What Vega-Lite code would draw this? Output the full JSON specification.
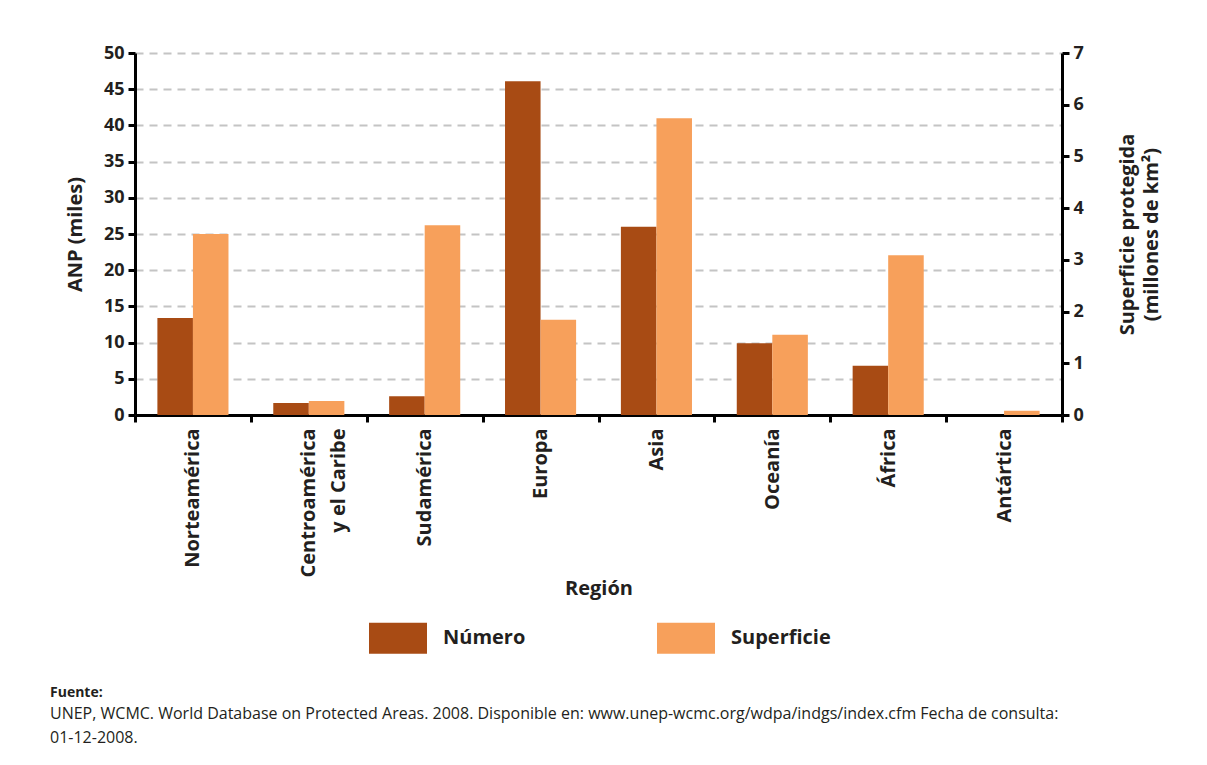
{
  "$schema": "https://vega.github.io/schema/vega-lite/v6.json",
  "width": 927,
  "height": 362,
  "autosize": "none",
  "padding": {"left": 135, "top": 53, "right": 145, "bottom": 350},
  "background": "white",
  "config": {
    "font": "Open Sans",
    "view": {"stroke": null},
    "axis": {
      "labelFont": "Open Sans",
      "labelFontWeight": "bold",
      "labelColor": "#231F20",
      "titleFont": "Open Sans",
      "titleFontWeight": "bold",
      "titleColor": "#231F20",
      "domainColor": "#000000",
      "domainWidth": 3,
      "tickColor": "#000000",
      "tickWidth": 3,
      "tickSize": 7
    }
  },
  "data": {
    "values": [
      {"region": "Norteamérica", "serie": "Número", "valor": 13.4},
      {"region": "Norteamérica", "serie": "Superficie", "valor": 3.5},
      {"region": "Centroamérica y el Caribe", "serie": "Número", "valor": 1.65},
      {"region": "Centroamérica y el Caribe", "serie": "Superficie", "valor": 0.27},
      {"region": "Sudamérica", "serie": "Número", "valor": 2.6},
      {"region": "Sudamérica", "serie": "Superficie", "valor": 3.67},
      {"region": "Europa", "serie": "Número", "valor": 46.1},
      {"region": "Europa", "serie": "Superficie", "valor": 1.84},
      {"region": "Asia", "serie": "Número", "valor": 26.0},
      {"region": "Asia", "serie": "Superficie", "valor": 5.74},
      {"region": "Oceanía", "serie": "Número", "valor": 9.9},
      {"region": "Oceanía", "serie": "Superficie", "valor": 1.55},
      {"region": "África", "serie": "Número", "valor": 6.8},
      {"region": "África", "serie": "Superficie", "valor": 3.09},
      {"region": "Antártica", "serie": "Número", "valor": 0},
      {"region": "Antártica", "serie": "Superficie", "valor": 0.08}
    ]
  },
  "title": {
    "text": "Fuente:",
    "subtitle": [
      "UNEP, WCMC. World Database on Protected Areas. 2008. Disponible en: www.unep-wcmc.org/wdpa/indgs/index.cfm Fecha de consulta:",
      "01-12-2008."
    ],
    "orient": "bottom",
    "anchor": "start",
    "frame": "group",
    "dx": -85,
    "offset": 32,
    "font": "Open Sans",
    "fontSize": 14,
    "fontWeight": "bold",
    "color": "#231F20",
    "subtitleFont": "Open Sans",
    "subtitleFontSize": 16,
    "subtitleColor": "#231F20",
    "subtitlePadding": 6,
    "subtitleLineHeight": 24
  },
  "encoding": {
    "x": {
      "field": "region",
      "type": "nominal",
      "sort": null,
      "scale": {"paddingInner": 0, "paddingOuter": 0},
      "axis": {
        "title": "Región",
        "titleFontSize": 20,
        "titlePadding": 2,
        "labelAngle": -90,
        "labelAlign": "right",
        "labelBaseline": "middle",
        "labelFontSize": 20,
        "labelPadding": 6,
        "labelLineHeight": 30,
        "labelExpr": "datum.value == 'Centroamérica y el Caribe' ? ['Centroamérica', 'y el Caribe'] : datum.value",
        "tickBand": "extent",
        "grid": false
      }
    },
    "xOffset": {
      "field": "serie",
      "type": "nominal",
      "scale": {"domain": ["Número", "Superficie"], "paddingInner": 0, "paddingOuter": 0.63}
    },
    "color": {
      "field": "serie",
      "type": "nominal",
      "scale": {"domain": ["Número", "Superficie"], "range": ["#A84B14", "#F7A05B"]},
      "legend": {
        "orient": "none",
        "legendX": 234,
        "legendY": 556,
        "direction": "horizontal",
        "title": null,
        "symbolType": "M-1,-0.534H1V0.534H-1Z",
        "symbolSize": 3364,
        "symbolStrokeWidth": 0,
        "symbolOpacity": 1,
        "labelFont": "Open Sans",
        "labelFontSize": 20,
        "labelFontWeight": "bold",
        "labelColor": "#231F20",
        "labelOffset": 16,
        "columnPadding": 131,
        "padding": 0
      }
    }
  },
  "layer": [
    {
      "transform": [{"filter": "datum.serie == 'Número'"}],
      "mark": {"type": "bar"},
      "encoding": {
        "y": {
          "field": "valor",
          "type": "quantitative",
          "scale": {"domain": [0, 50], "nice": false},
          "axis": {
            "orient": "left",
            "title": "ANP (miles)",
            "titleFontSize": 20,
            "titlePadding": 18,
            "values": [0, 5, 10, 15, 20, 25, 30, 35, 40, 45, 50],
            "labelFontSize": 18,
            "labelPadding": 4,
            "grid": true,
            "gridColor": "#C4C4C4",
            "gridWidth": 2,
            "gridDash": [8, 6]
          }
        }
      }
    },
    {
      "transform": [{"filter": "datum.serie == 'Superficie'"}],
      "mark": {"type": "bar"},
      "encoding": {
        "y": {
          "field": "valor",
          "type": "quantitative",
          "scale": {"domain": [0, 7], "nice": false},
          "axis": {
            "orient": "right",
            "title": ["Superficie protegida", "(millones de km²)"],
            "titleAngle": 270,
            "titleFontSize": 20,
            "titlePadding": 30,
            "titleLineHeight": 24,
            "values": [0, 1, 2, 3, 4, 5, 6, 7],
            "labelFontSize": 18,
            "labelPadding": 4,
            "grid": false
          }
        }
      }
    }
  ],
  "resolve": {"scale": {"y": "independent"}, "axis": {"y": "independent"}}
}
